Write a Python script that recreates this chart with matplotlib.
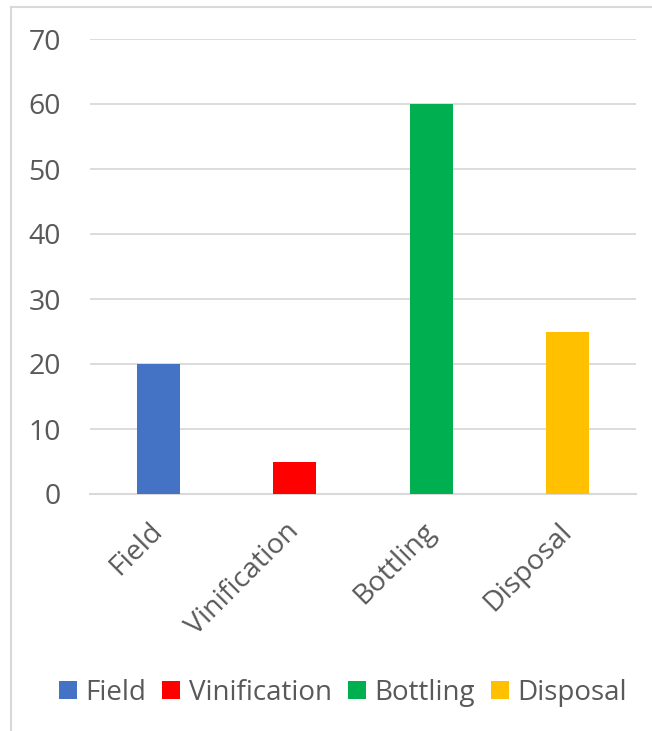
import matplotlib.pyplot as plt
from matplotlib.lines import Line2D

stages = ["Field", "Vinification", "Bottling", "Disposal"]
values = [20, 5, 60, 25]
colors = ["#4472C4", "#FF0000", "#00B050", "#FFC000"]
yticks = [0, 10, 20, 30, 40, 50, 60, 70]

plt.rcParams['font.family'] = ['Open Sans', 'DejaVu Sans']
text_gray = "#595959"
grid_gray = "#D9D9D9"

fig = plt.figure(figsize=(6.52, 7.31), dpi=100)
ax = fig.add_axes([90 / 652, 237 / 731, 546 / 652, 455 / 731])

# one bar per stage so each gets its own legend entry
for i, (name, val, col) in enumerate(zip(stages, values, colors)):
    ax.bar(i, val, width=0.315, color=col, label=name, zorder=3)

ax.set_xlim(-0.5, 3.5)
ax.set_ylim(0, 70)
ax.set_yticks(yticks)
ax.yaxis.grid(True, color=grid_gray, linewidth=1.3, zorder=0)
ax.tick_params(axis='both', length=0, labelsize=20.5, colors=text_gray)
ax.tick_params(axis='y', pad=21)
ax.tick_params(axis='x', pad=24)
ax.set_xticks(range(len(stages)))
ax.set_xticklabels(stages, rotation=45, ha='right', va='center',
                   rotation_mode='anchor')

for side in ['top', 'right', 'left']:
    ax.spines[side].set_visible(False)
ax.spines['bottom'].set_color(grid_gray)
ax.spines['bottom'].set_linewidth(1.5)

ax.legend(loc='center', bbox_to_anchor=(343 / 652, 38 / 731),
          bbox_transform=fig.transFigure, ncol=4, frameon=False,
          fontsize=20, labelcolor=text_gray, handlelength=0.64,
          handleheight=0.64, handletextpad=0.3, columnspacing=0.6)

# chart area border (only left and top edges show)
fig.add_artist(Line2D([10.5 / 652, 10.5 / 652], [0, 1 - 6.5 / 731],
                      color=grid_gray, linewidth=1.5))
fig.add_artist(Line2D([10.5 / 652, 1], [1 - 6.5 / 731, 1 - 6.5 / 731],
                      color=grid_gray, linewidth=1.5))

fig.savefig("out.png", dpi=100)
